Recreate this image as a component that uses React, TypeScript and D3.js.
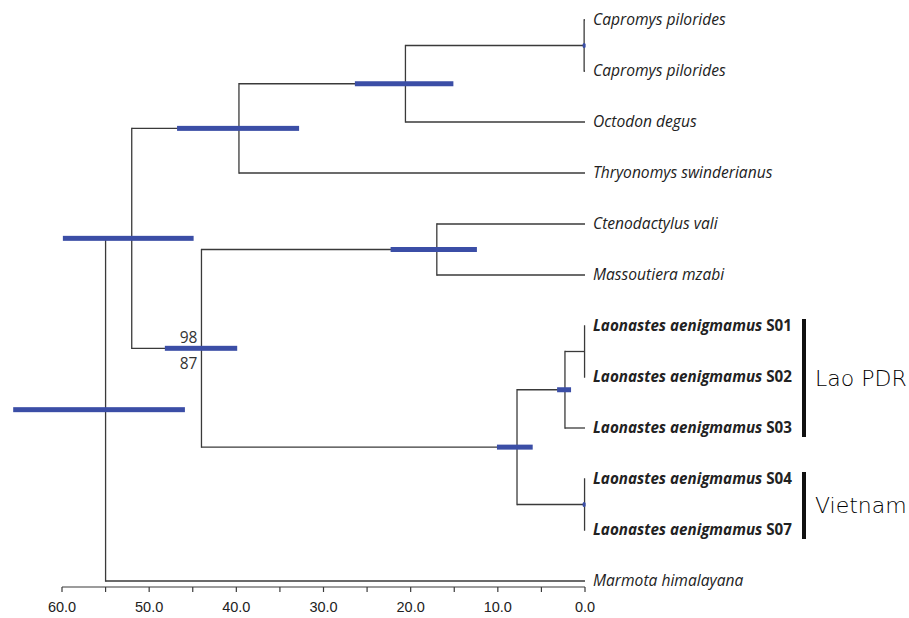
import React from "react";
import * as d3 from "d3";

// ---- data ----
const taxa = [
  "Capromys pilorides",
  "Capromys pilorides",
  "Octodon degus",
  "Thryonomys swinderianus",
  "Ctenodactylus vali",
  "Massoutiera mzabi",
  "Laonastes aenigmamus|S01",
  "Laonastes aenigmamus|S02",
  "Laonastes aenigmamus|S03",
  "Laonastes aenigmamus|S04",
  "Laonastes aenigmamus|S07",
  "Marmota himalayana",
];
const taxonParents = ["n4", "n4", "n3", "n2", "n6", "n6", "n9", "n9", "n8", "n10", "n10", "root"];

const nodeIds = ["root", "n1", "n2", "n3", "n4", "n5", "n6", "n7", "n8", "n9", "n10"];
const nodeParents = ["", "root", "n1", "n2", "n3", "n1", "n5", "n5", "n7", "n8", "n7"];
const nodeAges = [55.0, 52.0, 39.7, 20.6, 0.1, 44.0, 17.0, 7.8, 2.3, 0.05, 0.05];
const hpdLow = [45.9, 44.9, 32.8, 15.1, 0.0, 39.9, 12.4, 6.0, 1.6, NaN, 0.0];
const hpdHigh = [65.6, 59.9, 46.8, 26.4, 0.2, 48.2, 22.3, 10.1, 3.2, NaN, 0.2];
const supportAbove = ["", "", "", "", "", "98", "", "", "", "", ""];
const supportBelow = ["", "", "", "", "", "87", "", "", "", "", ""];

const groupNames = ["Lao PDR", "Vietnam"];
const groupFirst = [6, 9];
const groupLast = [8, 10];

const axisTicks = [60, 55, 50, 45, 40, 35, 30, 25, 20, 15, 10, 5, 0];

// ---- layout ----
const W = 909;
const H = 618;
const x = d3.scaleLinear().domain([60, 0]).range([62, 585]);
const y = d3.scaleLinear().domain([0, taxa.length - 1]).range([20, 581]);

const LINE = "#3a3a3a";
const BLUE = "#3b4ea6";

type Row = { id: string; parent: string; age: number; lo: number; hi: number; leaf: number; sa: string; sb: string };

const table: Row[] = [
  ...nodeIds.map((id, i) => ({
    id,
    parent: nodeParents[i],
    age: nodeAges[i],
    lo: hpdLow[i],
    hi: hpdHigh[i],
    leaf: -1,
    sa: supportAbove[i],
    sb: supportBelow[i],
  })),
  ...taxa.map((t, i) => ({ id: "t" + i, parent: taxonParents[i], age: 0, lo: NaN, hi: NaN, leaf: i, sa: "", sb: "" })),
];

const root = d3
  .stratify<Row>()
  .id((d) => d.id)
  .parentId((d) => (d.parent === "" ? null : d.parent))(table);

const minLeaf = (n: d3.HierarchyNode<Row>): number =>
  n.data.leaf >= 0 ? n.data.leaf : Math.min(...(n.children || []).map(minLeaf));
root.sort((a, b) => minLeaf(a) - minLeaf(b));

const ypos = new Map<string, number>();
root.eachAfter((n) => {
  if (n.data.leaf >= 0) ypos.set(n.data.id, y(n.data.leaf));
  else {
    const ch = n.children || [];
    ypos.set(n.data.id, (ypos.get(ch[0].data.id)! + ypos.get(ch[ch.length - 1].data.id)!) / 2);
  }
});

export default function App() {
  const nodes = root.descendants();
  const internals = nodes.filter((n) => n.children);
  const edges = nodes.filter((n) => n.parent);
  const axisY = 587;

  return (
    <svg width={W} height={H} style={{ position: "absolute", left: 0, top: 0, background: "#fff" }}>
      {/* horizontal branches */}
      {edges.map((n) => (
        <line
          key={"h" + n.data.id}
          x1={x(n.parent!.data.age)}
          x2={x(n.data.age)}
          y1={ypos.get(n.data.id)}
          y2={ypos.get(n.data.id)}
          stroke={LINE}
          strokeWidth={1.3}
        />
      ))}
      {/* vertical connectors */}
      {internals.map((n) => {
        const ch = n.children!;
        return (
          <line
            key={"v" + n.data.id}
            x1={x(n.data.age)}
            x2={x(n.data.age)}
            y1={ypos.get(ch[0].data.id)! - 0.65}
            y2={ypos.get(ch[ch.length - 1].data.id)! + 0.65}
            stroke={LINE}
            strokeWidth={1.3}
          />
        );
      })}
      {/* HPD bars */}
      {internals
        .filter((n) => !isNaN(n.data.lo))
        .map((n) => {
          const x0 = x(n.data.hi);
          const x1 = x(n.data.lo);
          const w = Math.max(3, x1 - x0);
          const cx = (x0 + x1) / 2;
          return (
            <rect
              key={"b" + n.data.id}
              x={cx - w / 2}
              y={ypos.get(n.data.id)! - 2.5}
              width={w}
              height={5}
              fill={BLUE}
              rx={w < 5 ? 1.5 : 0}
            />
          );
        })}
      {/* support values */}
      {internals
        .filter((n) => n.data.sa)
        .map((n) => (
          <g key={"s" + n.data.id} fontFamily="'Open Sans', sans-serif" fontSize={15.5} fill="#333" textAnchor="end">
            <text x={x(n.data.age) - 4} y={ypos.get(n.data.id)! - 5}>
              {n.data.sa}
            </text>
            <text x={x(n.data.age) - 4} y={ypos.get(n.data.id)! + 21}>
              {n.data.sb}
            </text>
          </g>
        ))}
      {/* tip labels */}
      {taxa.map((t, i) => {
        const parts = t.split("|");
        const bold = parts.length > 1;
        return (
          <text
            key={"t" + i}
            x={x(0) + 8}
            y={y(i)}
            dy="0.35em"
            fontFamily="'Open Sans', sans-serif"
            fontSize={bold ? 15.2 : 15.6}
            fontStyle="italic"
            fontWeight={bold ? 700 : 400}
            fill="#222"
          >
            {parts[0]}
            {bold && <tspan fontStyle="normal">{" " + parts[1]}</tspan>}
          </text>
        );
      })}
      {/* group bars */}
      {groupNames.map((g, i) => {
        const y0 = y(groupFirst[i]) - 7;
        const y1 = y(groupLast[i]) + 9;
        return (
          <g key={"g" + i}>
            <line x1={804} x2={804} y1={y0} y2={y1} stroke="#111" strokeWidth={4} />
            <text
              x={815}
              y={(y0 + y1) / 2}
              dy="0.35em"
              fontFamily="'DejaVu Sans', sans-serif"
              fontWeight={300}
              fontSize={22}
              fill="#000"
            >
              {g}
            </text>
          </g>
        );
      })}
      {/* axis */}
      <line x1={x(60)} x2={x(0)} y1={axisY} y2={axisY} stroke={LINE} strokeWidth={1.2} />
      {axisTicks.map((t) => (
        <g key={"a" + t}>
          <line x1={x(t)} x2={x(t)} y1={axisY} y2={axisY + 5} stroke={LINE} strokeWidth={1.2} />
          {t % 10 === 0 && (
            <text
              x={x(t)}
              y={axisY + 25}
              textAnchor="middle"
              fontFamily="'Liberation Sans', Arial, sans-serif"
              fontSize={14.5}
              fill="#222"
            >
              {t.toFixed(1)}
            </text>
          )}
        </g>
      ))}
    </svg>
  );
}
